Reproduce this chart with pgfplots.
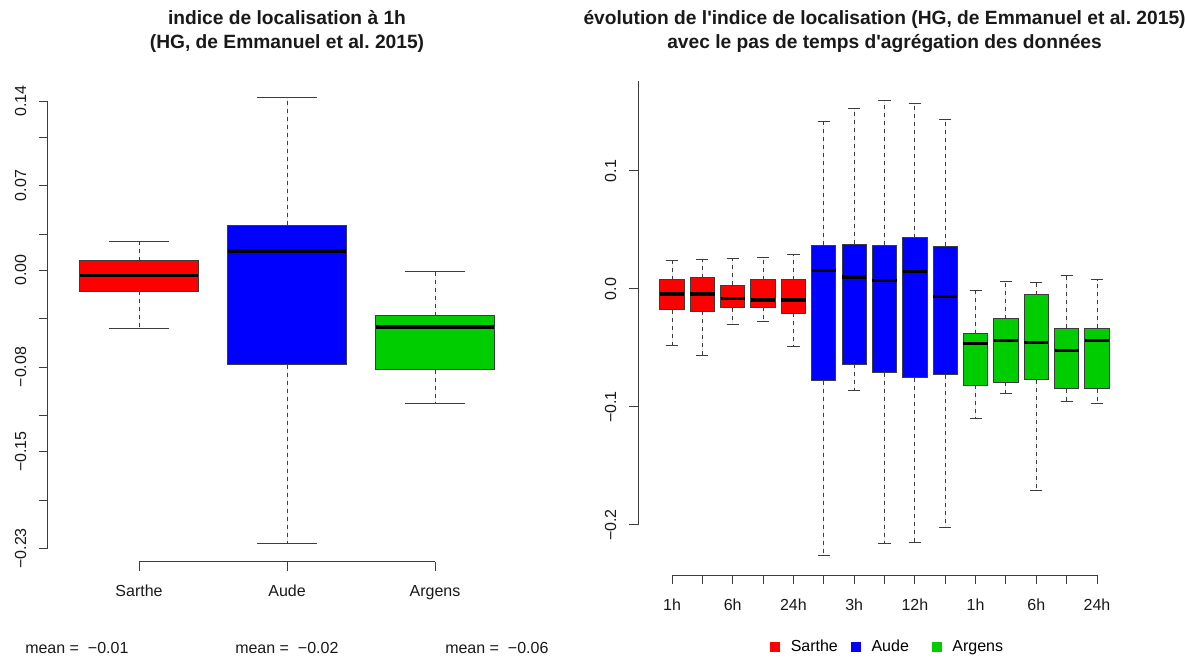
\documentclass[border=0pt]{standalone}
\usepackage{fontspec}
\setmainfont{Liberation Sans}
\usepackage{pgfplots}
\pgfplotsset{compat=1.18}
\usepgfplotslibrary{statistics}
\definecolor{rred}{RGB}{255,0,0}
\definecolor{rblue}{RGB}{0,0,255}
\definecolor{rgreen}{RGB}{0,205,0}
\definecolor{axgray}{RGB}{60,60,60}

\pgfplotsset{
  rstyle/.style={
    scale only axis,
    clip=false,
    axis line style={draw=none},
    tick pos=left,
    tick align=outside,
    major tick length=6.75pt,
    tick style={axgray, line width=0.75pt},
    ticklabel style={font=\fontsize{12}{14}\selectfont, text=black!90},
    yticklabel style={rotate=90, anchor=south},
    xticklabel shift=7.5pt,
    yticklabel shift=6pt,
    boxplot/draw direction=y,
    boxplot/box extend=0.8,
    boxplot/whisker extend=0.4,
    boxplot/draw/lower whisker/.code={%
      \draw[axgray, line width=0.75pt, dash pattern=on 3pt off 3pt]
        (boxplot box cs:\pgfplotsboxplotvalue{lower quartile},0.5) --
        (boxplot box cs:\pgfplotsboxplotvalue{lower whisker},0.5);
      \draw[axgray, line width=0.75pt]
        (boxplot whisker cs:\pgfplotsboxplotvalue{lower whisker},0) --
        (boxplot whisker cs:\pgfplotsboxplotvalue{lower whisker},1);
    },
    boxplot/draw/upper whisker/.code={%
      \draw[axgray, line width=0.75pt, dash pattern=on 3pt off 3pt]
        (boxplot box cs:\pgfplotsboxplotvalue{upper quartile},0.5) --
        (boxplot box cs:\pgfplotsboxplotvalue{upper whisker},0.5);
      \draw[axgray, line width=0.75pt]
        (boxplot whisker cs:\pgfplotsboxplotvalue{upper whisker},0) --
        (boxplot whisker cs:\pgfplotsboxplotvalue{upper whisker},1);
    },
    boxplot/draw/median/.code={%
      \draw[black, line width=2.6pt]
        (boxplot box cs:\pgfplotsboxplotvalue{median},0) --
        (boxplot box cs:\pgfplotsboxplotvalue{median},1);
    },
  }
}
% colour, position, lower whisker, lower quartile, median, upper quartile, upper whisker
\newcommand{\rbox}[7]{%
  \addplot[fill=#1, draw=axgray, line width=0.75pt, forget plot,
    boxplot prepared={draw position=#2, lower whisker=#3, lower quartile=#4,
      median=#5, upper quartile=#6, upper whisker=#7}] coordinates {};}
\newcommand{\legtext}[1]{\makebox[42pt][l]{\hspace{6.5pt}#1}}

\begin{document}
\begin{tikzpicture}
\useasboundingbox (0pt,0pt) rectangle (888.75pt,492.75pt);

% ---------------- left panel ----------------
\begin{axis}[rstyle,
  at={(36pt,71.625pt)}, anchor=south west,
  width=345.75pt, height=361.5pt,
  xmin=0.385, xmax=3.5, ymin=-0.2408, ymax=0.1578,
  xtick={1,2,3}, xticklabels={Sarthe,Aude,Argens},
  ytick={-0.23,-0.19,-0.15,-0.12,-0.08,-0.04,0,0.03,0.07,0.11,0.14},
  yticklabels={−0.23,,−0.15,,−0.08,,0.00,,0.07,,0.14},
]
\rbox{rred}{1}{-0.0480}{-0.0174}{-0.0045}{0.0079}{0.0242}
\rbox{rblue}{2}{-0.2260}{-0.0783}{0.0160}{0.0372}{0.1428}
\rbox{rgreen}{3}{-0.1098}{-0.0822}{-0.0469}{-0.0375}{-0.0012}
\draw[axgray, line width=0.75pt] (axis cs:1,-0.2408) -- (axis cs:3,-0.2408);
\draw[axgray, line width=0.75pt] (axis cs:0.385,-0.23) -- (axis cs:0.385,0.14);
\end{axis}

% ---------------- right panel ----------------
\begin{axis}[rstyle,
  at={(478.5pt,61.5pt)}, anchor=south west,
  width=355.65pt, height=370.3pt,
  xmin=-0.12, xmax=15.5, ymin=-0.2424, ymax=0.176,
  xtick={1,...,15},
  xticklabels={1h,,6h,,24h,,3h,,12h,,1h,,6h,,24h},
  ytick={-0.2,-0.1,0,0.1},
  yticklabels={−0.2,−0.1,0.0,0.1},
  legend style={draw=none, fill=none, legend columns=3,
    at={(axis description cs:0.524,-0.1458)}, anchor=center,
    font=\fontsize{12}{14}\selectfont,
    /tikz/every even column/.append style={column sep=8pt}},
  legend cell align=left,
]
\rbox{rred}{1}{-0.0477}{-0.0178}{-0.0042}{0.0079}{0.0243}
\rbox{rred}{2}{-0.0568}{-0.0189}{-0.0042}{0.0093}{0.0252}
\rbox{rred}{3}{-0.0305}{-0.0161}{-0.0079}{0.0031}{0.0260}
\rbox{rred}{4}{-0.0277}{-0.0153}{-0.0093}{0.0079}{0.0268}
\rbox{rred}{5}{-0.0486}{-0.0206}{-0.0093}{0.0079}{0.0288}
\rbox{rblue}{6}{-0.2260}{-0.0780}{0.0155}{0.0370}{0.1415}
\rbox{rblue}{7}{-0.0862}{-0.0636}{0.0102}{0.0379}{0.1530}
\rbox{rblue}{8}{-0.2160}{-0.0709}{0.0073}{0.0370}{0.1600}
\rbox{rblue}{9}{-0.2147}{-0.0754}{0.0150}{0.0435}{0.1570}
\rbox{rblue}{10}{-0.2025}{-0.0726}{-0.0065}{0.0362}{0.1440}
\rbox{rgreen}{11}{-0.1099}{-0.0816}{-0.0463}{-0.0379}{-0.0014}
\rbox{rgreen}{12}{-0.0890}{-0.0791}{-0.0438}{-0.0251}{0.0059}
\rbox{rgreen}{13}{-0.1706}{-0.0771}{-0.0455}{-0.0051}{0.0051}
\rbox{rgreen}{14}{-0.0952}{-0.0845}{-0.0520}{-0.0333}{0.0116}
\rbox{rgreen}{15}{-0.0969}{-0.0845}{-0.0438}{-0.0333}{0.0079}
\draw[axgray, line width=0.75pt] (axis cs:1,-0.2424) -- (axis cs:15,-0.2424);
\draw[axgray, line width=0.75pt] (axis cs:-0.12,-0.2) -- (axis cs:-0.12,0.176);
\addlegendimage{only marks, mark=square*, mark size=3.3pt, color=rred, mark options={draw=rred, fill=rred}}
\addlegendentry{\legtext{Sarthe}}
\addlegendimage{only marks, mark=square*, mark size=3.3pt, color=rblue, mark options={draw=rblue, fill=rblue}}
\addlegendentry{\legtext{Aude}}
\addlegendimage{only marks, mark=square*, mark size=3.3pt, color=rgreen, mark options={draw=rgreen, fill=rgreen}}
\addlegendentry{\legtext{Argens}}
\end{axis}

% ---------------- titles ----------------
\begin{scope}[every node/.style={font=\bfseries\fontsize{14.4}{17}\selectfont, text=black!90, inner sep=0pt}]
\node[anchor=base] at (215.25pt,474pt) {indice de localisation à 1h};
\node[anchor=base] at (215.25pt,456.2pt) {(HG, de Emmanuel et al.\ 2015)};
\node[anchor=base] at (663.4pt,474pt) {évolution de l\textquotesingle indice de localisation (HG, de Emmanuel et al.\ 2015)};
\node[anchor=base] at (663.4pt,456.2pt) {avec le pas de temps d\textquotesingle agrégation des données};
\end{scope}

% ---------------- mean texts ----------------
\begin{scope}[every node/.style={font=\fontsize{12}{14}\selectfont, text=black!90, inner sep=0pt, anchor=base west}]
\node at (18.75pt,2.6pt) {mean = \ −0.01};
\node at (176.25pt,2.6pt) {mean = \ −0.02};
\node at (333.75pt,2.6pt) {mean = \ −0.06};
\end{scope}
\end{tikzpicture}
\end{document}
